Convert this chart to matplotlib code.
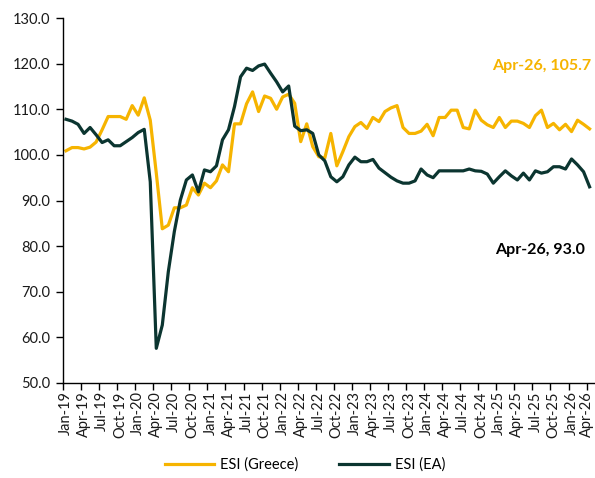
import matplotlib
matplotlib.use("Agg")
import matplotlib.pyplot as plt
import matplotlib.transforms as mtransforms

plt.rcParams['font.family'] = ['Lato', 'DejaVu Sans']

tick_labels = ['Jan-19', 'Apr-19', 'Jul-19', 'Oct-19', 'Jan-20', 'Apr-20', 'Jul-20', 'Oct-20',
               'Jan-21', 'Apr-21', 'Jul-21', 'Oct-21', 'Jan-22', 'Apr-22', 'Jul-22', 'Oct-22',
               'Jan-23', 'Apr-23', 'Jul-23', 'Oct-23', 'Jan-24', 'Apr-24', 'Jul-24', 'Oct-24',
               'Jan-25', 'Apr-25', 'Jul-25', 'Oct-25', 'Jan-26', 'Apr-26']

esi_greece = [100.9, 101.6, 101.6, 101.3, 101.7, 102.8, 105.5, 108.4, 108.4, 108.4,
              107.8, 110.8, 108.7, 112.5, 107.6, 96.0, 83.8, 84.6, 88.4, 88.4,
              89.0, 92.8, 91.2, 93.8, 92.8, 94.3, 97.8, 96.3, 106.8, 106.8,
              111.2, 113.8, 109.5, 112.9, 112.4, 110.0, 112.7, 113.3, 111.3, 102.9,
              106.8, 101.8, 99.6, 99.3, 104.7, 97.6, 100.7, 104.0, 106.2, 107.1,
              105.8, 108.2, 107.3, 109.5, 110.3, 110.8, 106.0, 104.7, 104.7, 105.2,
              106.7, 104.2, 108.2, 108.2, 109.8, 109.8, 106.0, 105.7, 109.8, 107.6,
              106.6, 106.0, 108.2, 106.0, 107.4, 107.4, 106.9, 106.0, 108.6, 109.8,
              106.0, 106.9, 105.5, 106.7, 105.1, 107.6, 106.7, 105.7]

esi_ea = [107.8, 107.4, 106.7, 104.7, 106.0, 104.4, 102.7, 103.3, 102.0, 102.0,
          102.9, 103.8, 104.9, 105.6, 94.1, 57.6, 62.7, 74.4, 83.2, 90.1,
          94.5, 95.6, 91.9, 96.7, 96.3, 97.6, 103.3, 105.5, 110.6, 117.1,
          119.0, 118.5, 119.5, 119.9, 117.9, 116.0, 113.8, 115.1, 106.3, 105.3,
          105.5, 104.7, 100.0, 98.7, 95.2, 94.1, 95.2, 97.8, 99.5, 98.5,
          98.5, 99.0, 97.1, 96.1, 95.1, 94.3, 93.8, 93.8, 94.3, 96.9,
          95.6, 95.0, 96.5, 96.5, 96.5, 96.5, 96.5, 96.9, 96.5, 96.4,
          95.8, 93.8, 95.2, 96.5, 95.4, 94.5, 96.0, 94.5, 96.5, 96.0,
          96.3, 97.4, 97.4, 96.9, 99.1, 97.8, 96.3, 93.0]

yellow = '#F6B400'
dark = '#0B3530'

fig = plt.figure(figsize=(5.95, 4.78), dpi=100)
ax = fig.add_axes([63 / 595, 95 / 478, 532 / 595, 365 / 478])

x = list(range(len(esi_greece)))
ax.plot(x, esi_greece, color=yellow, lw=2.3, label='ESI (Greece)', solid_joinstyle='round')
ax.plot(x, esi_ea, color=dark, lw=2.3, label='ESI (EA)', solid_joinstyle='round')

ax.set_xlim(-0.5, 87.9)
ax.set_ylim(50, 130)
ax.set_yticks(range(50, 131, 10))
ax.set_yticklabels([f'{v:.1f}' for v in range(50, 131, 10)], fontsize=10.5, color='#1a1a1a')

major_pos = [3 * k for k in range(len(tick_labels))]
ax.set_xticks(major_pos)
ax.set_xticklabels(tick_labels, rotation=90, fontsize=10.5, color='#1a1a1a')
ax.set_xticks([p - 0.5 for p in major_pos], minor=True)
ax.tick_params(axis='x', which='major', length=0, pad=6)
ax.tick_params(axis='x', which='minor', length=5, width=1, direction='out', color='black')
ax.tick_params(axis='y', length=5, width=1, direction='out', pad=4)

# nudge the last label so it stays inside the figure
last = ax.get_xticklabels()[-1]
last.set_transform(last.get_transform() + mtransforms.ScaledTranslation(-2.5 / 100, 0, fig.dpi_scale_trans))

for s in ['top', 'right']:
    ax.spines[s].set_visible(False)
for s in ['left', 'bottom']:
    ax.spines[s].set_color('black')
    ax.spines[s].set_linewidth(1)

ax.text(87.3, 119.5, 'Apr-26, 105.7', color=yellow, fontsize=11.5, fontweight='bold',
        ha='right', va='center')
ax.text(86.3, 79.2, 'Apr-26, 93.0', color='black', fontsize=11.5, fontweight='bold',
        ha='right', va='center')

leg = fig.legend(loc='center', bbox_to_anchor=(305 / 595, 1 - 465 / 478), ncol=2,
                 frameon=False, fontsize=10.5, handlelength=3.4, columnspacing=2.8,
                 handletextpad=0.4)

fig.savefig('out.png', dpi=100)
